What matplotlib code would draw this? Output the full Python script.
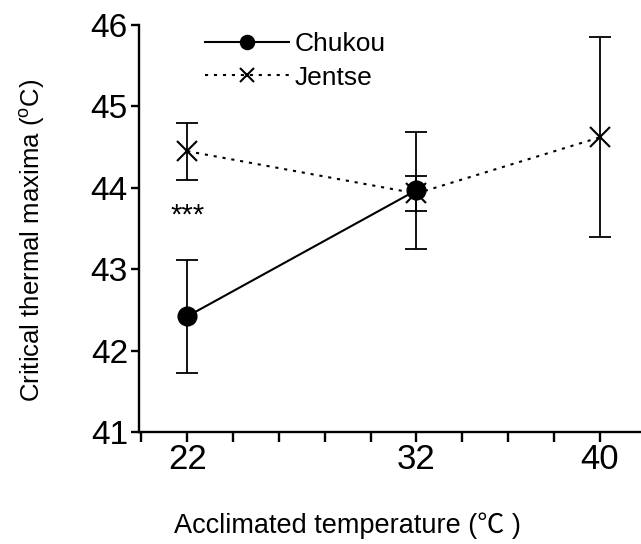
#!/usr/bin/env python3
"""
Critical thermal maxima vs acclimated temperature (Chukou / Jentse)
"""

import matplotlib
matplotlib.use('Agg')
import matplotlib.pyplot as plt

# data
chukou_temp = [22, 32]
chukou_mean = [42.42, 43.97]
chukou_sd = [0.69, 0.72]

jentse_temp = [22, 32, 40]
jentse_mean = [44.45, 43.93, 44.62]
jentse_sd = [0.35, 0.22, 1.23]

xtick_values = [20, 22, 24, 26, 28, 30, 32, 34, 36, 38, 40]
xtick_labels = ['', '22', '', '', '', '', '32', '', '', '', '40']
ytick_values = [41, 42, 43, 44, 45, 46]

plt.rcParams['font.family'] = ['Liberation Sans', 'Noto Sans CJK SC', 'DejaVu Sans']
plt.rcParams['mathtext.fontset'] = 'custom'
plt.rcParams['mathtext.rm'] = 'Liberation Sans'

fig = plt.figure(figsize=(6.41, 5.44), dpi=100)
ax = fig.add_axes([0.217, 0.206, 0.783, 0.748])

# Jentse (dotted, x markers)
ax.errorbar(jentse_temp, jentse_mean, yerr=jentse_sd, fmt='none',
            ecolor='black', elinewidth=1.3, capsize=8, capthick=1.3, zorder=2)
ax.plot(jentse_temp, jentse_mean, color='black', linewidth=1.5,
        dashes=(1.5, 2.8), marker='x', markersize=14, markeredgewidth=1.5,
        label='Jentse', zorder=3)

# Chukou (solid, filled circles)
ax.errorbar(chukou_temp, chukou_mean, yerr=chukou_sd, fmt='none',
            ecolor='black', elinewidth=1.3, capsize=8, capthick=1.3, zorder=2)
ax.plot(chukou_temp, chukou_mean, color='black', linewidth=1.5,
        marker='o', markersize=13.5, label='Chukou', zorder=4)

# significance mark
ax.text(22, 43.66, '***', ha='center', va='center', fontsize=21)

ax.set_xlim(19.9, 41.8)
ax.set_ylim(41, 46)
ax.set_xticks(xtick_values)
ax.set_xticklabels(xtick_labels)
ax.set_yticks(ytick_values)

ax.spines['top'].set_visible(False)
ax.spines['right'].set_visible(False)
ax.spines['left'].set_linewidth(1.7)
ax.spines['bottom'].set_linewidth(1.7)
ax.tick_params(axis='y', direction='out', length=6, width=1.7, labelsize=24, pad=2)
ax.tick_params(axis='x', direction='out', length=7, width=1.7, labelsize=25, pad=1)

ax.set_ylabel(r'Critical thermal maxima ($^{\rm o}$C)', fontsize=18.5)
ax.yaxis.set_label_coords(-0.183, 0.472)
ax.set_xlabel('Acclimated temperature (℃ )', fontsize=19.5)
ax.xaxis.set_label_coords(0.416, -0.197)

handles, labels = ax.get_legend_handles_labels()
ax.legend(handles[::-1], labels[::-1], loc='upper left', bbox_to_anchor=(0.083, 1.04),
          frameon=False, fontsize=19, handlelength=3.2, handletextpad=0.2,
          markerscale=0.75, labelspacing=0.35)

plt.savefig('out.png', dpi=100)
plt.close()
